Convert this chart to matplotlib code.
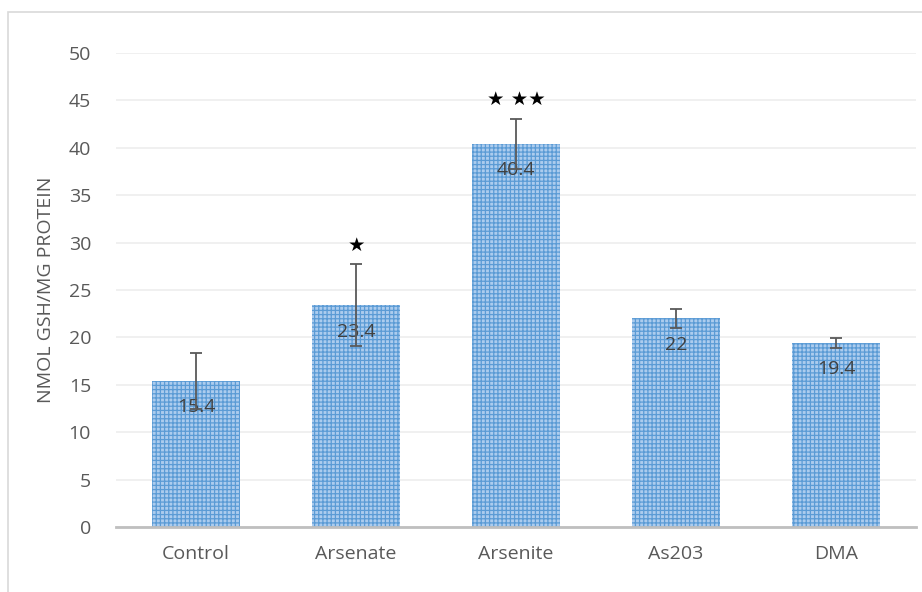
import numpy as np
import matplotlib.pyplot as plt
from matplotlib.patches import Rectangle

plt.rcParams['font.family'] = ['Open Sans', 'DejaVu Sans']
plt.rcParams['hatch.linewidth'] = 0.9

groups = ['Control', 'Arsenate', 'Arsenite', 'As203', 'DMA']
gsh = [15.4, 23.4, 40.4, 22.0, 19.4]
gsh_err = [3.0, 4.3, 2.6, 1.0, 0.5]
stars = ['', '\u2605', '\u2605 \u2605\u2605', '', '']

fig = plt.figure(figsize=(9.22, 5.92), dpi=100)
ax = fig.add_axes([116 / 922, 65 / 592, 800 / 922, 474 / 592])

# outer chart frame, open at the bottom and right
fig.patches.append(Rectangle((8 / 922, -0.1), 1.1, (592 - 12) / 592 + 0.1,
                             transform=fig.transFigure, fill=False,
                             edgecolor='#d9d9d9', linewidth=1.2))

x = np.arange(len(groups))
ax.bar(x, gsh, width=0.555, color='#acccee', edgecolor='#5b9bd5', linewidth=0,
       hatch='++++', zorder=2)
ax.errorbar(x, gsh, yerr=gsh_err, fmt='none', ecolor='#595959', elinewidth=1.3,
            capsize=4, capthick=1.3, zorder=4)

for xi, v in zip(x, gsh):
    ax.annotate(f'{v:g}', (xi, v), xytext=(0, -19), textcoords='offset points',
                ha='center', va='center', fontsize=14, color='#404040', zorder=3)

for xi, v, e, s in zip(x, gsh, gsh_err, stars):
    if s:
        ax.annotate(s, (xi, v + e), xytext=(0, 14), textcoords='offset points',
                    ha='center', va='center', fontsize=14, color='black',
                    family=['DejaVu Sans'])

ax.set_xlim(-0.5, len(groups) - 0.5)
ax.set_ylim(0, 50)
ax.set_yticks(np.arange(0, 51, 5))
ax.set_xticks(x)
ax.set_xticklabels(groups)
ax.grid(axis='y', color='#eeeeee', linewidth=1.2, zorder=0)
ax.set_axisbelow(True)

for side in ['top', 'right', 'left']:
    ax.spines[side].set_visible(False)
ax.spines['bottom'].set_color('#bfbfbf')
ax.spines['bottom'].set_linewidth(2)
ax.tick_params(length=0, labelsize=14, labelcolor='#595959')
ax.tick_params(axis='x', pad=13)
ax.tick_params(axis='y', pad=18)
ax.set_ylabel('NMOL GSH/MG PROTEIN', fontsize=14, color='#595959', labelpad=10)

fig.savefig('out.png', dpi=100)
